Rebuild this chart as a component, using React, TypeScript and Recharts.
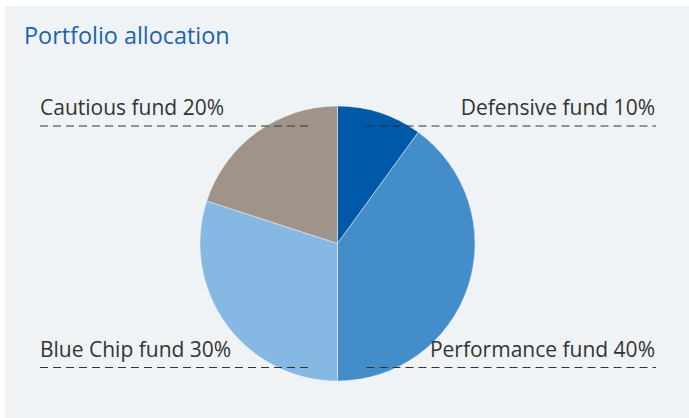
import { PieChart, Pie, Cell } from 'recharts';

const funds = ['Defensive fund', 'Performance fund', 'Blue Chip fund', 'Cautious fund'];
const shares = [10, 40, 30, 20];
const COLORS = ['#0058a8', '#438dcb', '#85b8e3', '#a09389'];

const data = funds.map((name, i) => ({ name, value: shares[i] }));

const RADIAN = Math.PI / 180;

function renderLabel(props: any) {
  const { cx, cy, midAngle, name, value } = props;
  const right = Math.cos(-midAngle * RADIAN) > 0;
  const top = Math.sin(-midAngle * RADIAN) < 0;
  const lineY = top ? cy - 117.5 : cy + 124;
  const x1 = right ? cx + 29 : 40;
  const x2 = right ? 656 : cx - 26;
  return (
    <g>
      <line x1={x1} x2={x2} y1={lineY} y2={lineY} stroke="#333" strokeWidth={1} strokeDasharray="8 5" />
      <text
        x={right ? 655 : 40}
        y={lineY - 11}
        textAnchor={right ? 'end' : 'start'}
        fill="#333"
        fontSize={21}
        fontFamily="'Open Sans', sans-serif"
      >
        {`${name} ${value}%`}
      </text>
    </g>
  );
}

export default function App() {
  return (
    <div style={{ position: 'relative', width: 689, height: 418, background: '#fff' }}>
      <style>{'body{margin:0}'}</style>
      <div style={{ position: 'absolute', left: 5, top: 6, right: 0, bottom: 0, background: '#eff3f5' }} />
      <div
        style={{
          position: 'absolute',
          left: 24,
          top: 19,
          fontFamily: "'Open Sans', sans-serif",
          fontSize: 23.4,
          color: '#1a64b2',
        }}
      >
        Portfolio allocation
      </div>
      <div style={{ position: 'absolute', left: 0, top: 0 }}>
        <PieChart width={689} height={418} margin={{ top: 0, right: 0, bottom: 0, left: 0 }}>
          <Pie
            data={data}
            dataKey="value"
            nameKey="name"
            cx={337.5}
            cy={243.5}
            outerRadius={137.5}
            startAngle={90}
            endAngle={-270}
            stroke="#eff3f5"
            strokeWidth={0.5}
            label={renderLabel}
            labelLine={false}
            isAnimationActive={false}
          >
            {data.map((_, i) => (
              <Cell key={`cell-${i}`} fill={COLORS[i]} />
            ))}
          </Pie>
        </PieChart>
      </div>
    </div>
  );
}
